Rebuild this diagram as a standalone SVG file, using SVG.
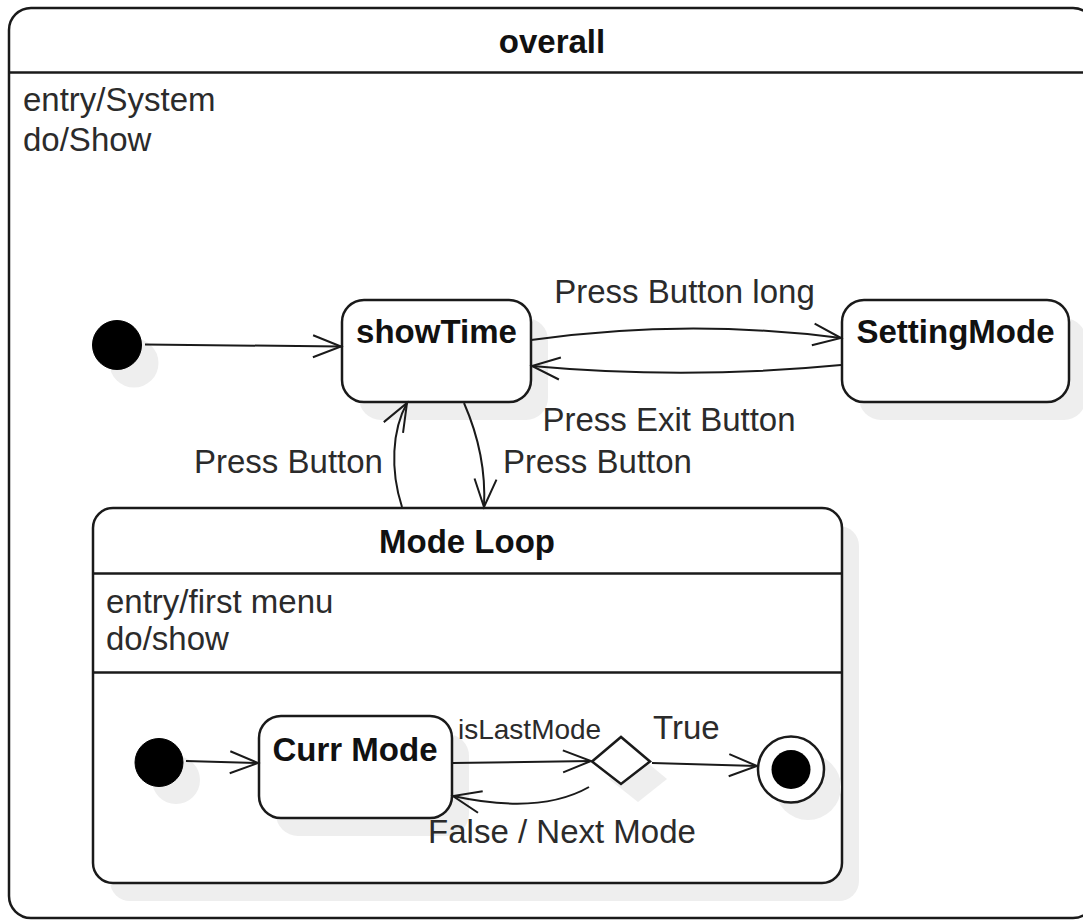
<svg xmlns="http://www.w3.org/2000/svg" width="1083" height="922" viewBox="0 0 1083 922">
<style>
.box{fill:#fff;stroke:#1a1a1a;stroke-width:2.5}
.sh{fill:#eeeeee;stroke:none}
.div{stroke:#1a1a1a;stroke-width:2.5;fill:none}
.init{fill:#000;stroke:#000;stroke-width:1}
.edge{fill:none;stroke:#1a1a1a;stroke-width:2;marker-end:url(#open)}
.t{font-family:"Liberation Sans",Arial,Helvetica,sans-serif;font-size:33px;fill:#2b2b2b}
.b{font-family:"Liberation Sans",Arial,Helvetica,sans-serif;font-size:33px;font-weight:bold;fill:#111}
.s{font-family:"Liberation Sans",Arial,Helvetica,sans-serif;font-size:28px;fill:#2b2b2b}
</style>
<defs>
<marker id="open" markerUnits="userSpaceOnUse" markerWidth="34" markerHeight="28" viewBox="0 0 34 28" refX="31" refY="14" orient="auto">
<path d="M3,3 L31,14 L3,25" fill="none" stroke="#1a1a1a" stroke-width="2"/>
</marker>
</defs>
<rect width="1083" height="922" fill="#fff"/>

<g id="overall">
<rect class="box" x="9" y="8" width="1086" height="910" rx="22"/>
<line class="div" x1="9" y1="72.5" x2="1095" y2="72.5"/>
<text class="b" x="552" y="53" text-anchor="middle">overall</text>
<text class="t" x="23" y="111">entry/System</text>
<text class="t" x="23" y="151">do/Show</text>
</g>

<g id="shadows-top">
<circle class="sh" cx="134" cy="363" r="24.5"/>
<rect class="sh" x="359" y="318" width="189" height="102" rx="22"/>
<rect class="sh" x="859" y="318" width="227" height="102" rx="22"/>
<rect class="sh" x="110" y="526" width="749" height="375" rx="20"/>
</g>

<g id="init1">
<circle class="init" cx="117" cy="345" r="24.5"/>
</g>

<g id="showTime">
<rect class="box" x="342" y="300" width="189" height="102" rx="22"/>
<text class="b" x="436.5" y="343" text-anchor="middle">showTime</text>
</g>

<g id="settingMode">
<rect class="box" x="842" y="300" width="227" height="102" rx="22"/>
<text class="b" x="955.5" y="343" text-anchor="middle">SettingMode</text>
</g>

<g id="modeLoop">
<rect class="box" x="93" y="508" width="749" height="375" rx="20"/>
<line class="div" x1="93" y1="573.5" x2="842" y2="573.5"/>
<line class="div" x1="93" y1="672.5" x2="842" y2="672.5"/>
<text class="b" x="467" y="553" text-anchor="middle">Mode Loop</text>
<text class="t" x="106" y="613">entry/first menu</text>
<text class="t" x="106" y="650">do/show</text>
</g>

<g id="shadows-inner">
<circle class="sh" cx="176" cy="780" r="24"/>
<rect class="sh" x="276" y="734" width="193" height="102" rx="22"/>
<polygon class="sh" points="609,779 638,755 667,779 638,802"/>
<circle class="sh" cx="808" cy="787" r="33"/>
</g>

<g id="init2">
<circle class="init" cx="159" cy="762.5" r="24"/>
</g>

<g id="currMode">
<rect class="box" x="259" y="716" width="193" height="102" rx="22"/>
<text class="b" x="355" y="761" text-anchor="middle">Curr Mode</text>
</g>

<g id="choice">
<polygon class="box" points="592,761.5 621,737 650,761.5 621,784"/>
</g>

<g id="final">
<circle class="box" cx="791" cy="769.5" r="33"/>
<circle fill="#000" cx="791" cy="769.5" r="19.5"/>
</g>

<g id="connectors">
<path class="edge" d="M145,344.5 L341,346.5"/>
<path class="edge" d="M531,340 Q686,318 841,338"/>
<path class="edge" d="M841,365 Q686,380 532,366"/>
<path class="edge" d="M464,403 C478,435 486,470 484,507"/>
<path class="edge" d="M402,507 C390,470 392,430 407,403"/>
<path class="edge" d="M186,761 L258,763"/>
<path class="edge" d="M453,763 L591,761"/>
<path class="edge" d="M589,787 Q540,815 453,796"/>
<path class="edge" d="M652,763 L757,766"/>
</g>

<g id="labels">
<text class="t" x="684.5" y="303" text-anchor="middle">Press Button long</text>
<text class="t" x="669" y="431" text-anchor="middle">Press Exit Button</text>
<text class="t" x="194" y="473">Press Button</text>
<text class="t" x="503" y="473">Press Button</text>
<text class="s" x="458" y="739">isLastMode</text>
<text class="t" x="653" y="739">True</text>
<text class="t" x="562" y="843" text-anchor="middle">False / Next Mode</text>
</g>
</svg>
